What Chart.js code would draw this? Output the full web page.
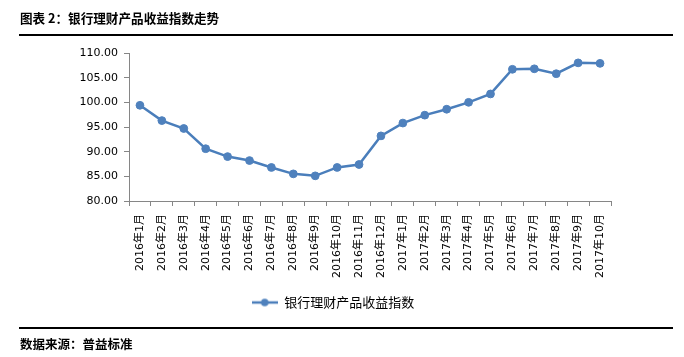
<!DOCTYPE html>
<html>
<head>
<meta charset="utf-8">
<script src="https://cdn.jsdelivr.net/npm/chart.js@4/dist/chart.umd.min.js"></script>
<style>
  html, body { margin: 0; padding: 0; background: #fff; }
  #wrap { position: relative; width: 684px; height: 357px; overflow: hidden; background: #fff; }
  #c { position: absolute; left: 0; top: 0; }
  .title { position: absolute; left: 20px; top: 10px; font: bold 12.6px "Noto Sans CJK SC", sans-serif; line-height: 16px; color: #000; white-space: nowrap; }
  .foot { position: absolute; left: 20px; top: 336px; font: bold 12.5px "Noto Sans CJK SC", sans-serif; line-height: 16px; color: #000; white-space: nowrap; }
  .rule { position: absolute; left: 19px; width: 654px; height: 1.5px; background: #000; }
</style>
</head>
<body>
<div id="wrap">
  <canvas id="c" width="684" height="357"></canvas>
  <div class="title">图表 2：银行理财产品收益指数走势</div>
  <div class="rule" style="top:34px"></div>
  <div class="rule" style="top:327px"></div>
  <div class="foot">数据来源：普益标准</div>
</div>
<script>
const categories = ["2016年1月","2016年2月","2016年3月","2016年4月","2016年5月","2016年6月","2016年7月","2016年8月","2016年9月","2016年10月","2016年11月","2016年12月","2017年1月","2017年2月","2017年3月","2017年4月","2017年5月","2017年6月","2017年7月","2017年8月","2017年9月","2017年10月"];
const seriesName = "银行理财产品收益指数";
const indexValues = [99.4, 96.3, 94.7, 90.6, 89.0, 88.2, 86.8, 85.5, 85.1, 86.8, 87.4, 93.2, 95.8, 97.4, 98.6, 100.0, 101.7, 106.7, 106.8, 105.8, 108.0, 107.9];
const yTicks = { min: 80, max: 110, step: 5 };

const lineColor = '#4A7EBB';
const markColor = '#4F81BD';
const axisColor = '#868686';

// legend symbol: line with a dot
const sym = document.createElement('canvas');
sym.width = 26; sym.height = 10;
(function(){
  const g = sym.getContext('2d');
  g.strokeStyle = lineColor; g.lineWidth = 2.5;
  g.beginPath(); g.moveTo(0, 5); g.lineTo(26, 5); g.stroke();
  g.fillStyle = markColor;
  g.beginPath(); g.arc(13, 5, 3.8, 0, Math.PI * 2); g.fill();
})();

const font = '"DejaVu Sans", "Noto Sans CJK SC", sans-serif';

new Chart(document.getElementById('c'), {
  type: 'line',
  data: {
    labels: categories,
    datasets: [{
      label: seriesName,
      data: indexValues,
      borderColor: lineColor,
      backgroundColor: markColor,
      borderWidth: 2.5,
      pointRadius: 3.9,
      pointBackgroundColor: markColor,
      pointBorderColor: markColor,
      pointBorderWidth: 1,
      tension: 0,
      fill: false
    }]
  },
  options: {
    responsive: false,
    animation: false,
    layout: { padding: { left: 55, right: 73, top: 53, bottom: 38 } },
    plugins: {
      tooltip: { enabled: false },
      legend: {
        position: 'bottom',
        labels: {
          usePointStyle: true,
          pointStyleWidth: 26,
          padding: 8,
          color: '#000',
          font: { family: '"Noto Sans CJK SC", sans-serif', size: 13 },
          generateLabels(chart) {
            return [{
              text: seriesName,
              pointStyle: sym,
              fillStyle: markColor,
              strokeStyle: lineColor,
              lineWidth: 0,
              hidden: false,
              datasetIndex: 0,
              fontColor: '#000'
            }];
          }
        }
      }
    },
    scales: {
      x: {
        offset: true,
        grid: { offset: true, drawOnChartArea: false, drawTicks: true, tickLength: 5, color: axisColor },
        border: { color: axisColor, width: 1 },
        ticks: {
          autoSkip: false, maxRotation: 90, minRotation: 90, padding: 8,
          color: '#000', font: { family: font, size: 11 }
        },
        afterFit(scale) { scale.height = 87; }
      },
      y: {
        min: yTicks.min, max: yTicks.max,
        grid: { drawOnChartArea: false, drawTicks: true, tickLength: 5, color: axisColor },
        border: { color: axisColor, width: 1 },
        ticks: {
          stepSize: yTicks.step, padding: 6,
          color: '#000', font: { family: font, size: 11 },
          callback: v => Number(v).toFixed(2)
        },
        afterFit(scale) { scale.width = 74; }
      }
    }
  }
});
</script>
</body>
</html>
